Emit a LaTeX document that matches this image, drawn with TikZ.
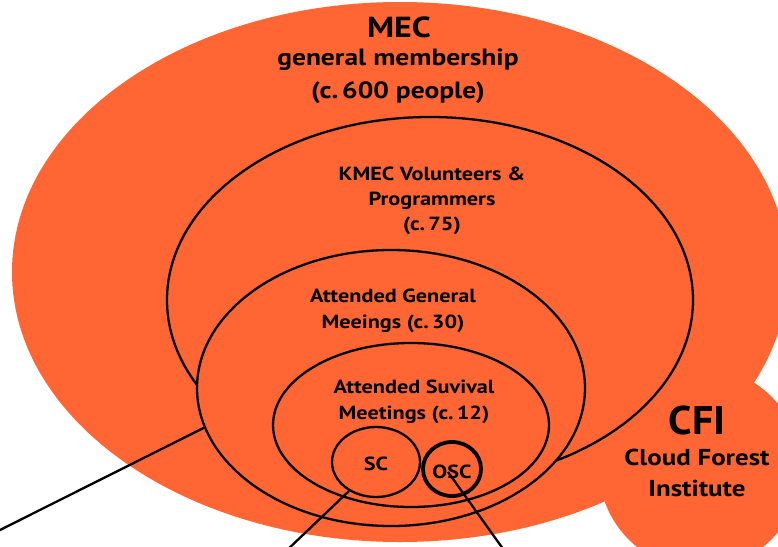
\documentclass[tikz,border=0pt]{standalone}
\usepackage{fontspec}
\setmainfont{PT Sans}[FakeStretch=1.17]
\newfontfamily\cfifont{PT Sans}[FakeStretch=1.05]
\usetikzlibrary{shapes.geometric}
\definecolor{mecorange}{RGB}{255,102,51}
\begin{document}
\begin{tikzpicture}[x=1pt,y=-1pt,
  blob/.style={fill=mecorange, draw=none, inner sep=0pt},
  ring/.style={ellipse, draw=black, line width=2.3pt, inner sep=0pt},
  lbl/.style={font=\bfseries, align=center, inner sep=0pt},
  conn/.style={draw=black, line width=2.3pt}]
\useasboundingbox (0,0) rectangle (778,546);
\clip (0,0) rectangle (778,546);
\fill[white] (0,0) rectangle (778,546);
% orange backgrounds
\node[ellipse, blob, minimum width=776pt, minimum height=540pt] (mec) at (400,272) {};
\node[circle, blob, minimum size=202pt] (cfi) at (700,468) {};
% nested groups
\node[ring, minimum width=526pt, minimum height=366pt] (kmec) at (430,300) {};
\node[ring, fill=mecorange, minimum width=388pt, minimum height=276pt] (gm) at (391,388) {};
\node[ring, minimum width=276pt, minimum height=164pt] (sv) at (411,425) {};
\node[ring, minimum width=88pt, minimum height=70pt] (sc) at (376,462) {};
\node[ring, line width=3.8pt, minimum width=58pt, minimum height=54pt] (osc) at (452,469) {};
% labels
\node[lbl, font=\bfseries\fontsize{29}{33}\selectfont] (mect) at (399,27) {MEC};
\node[lbl, font=\bfseries\fontsize{23.5}{33}\selectfont] (mecs) at (398,76) {general membership\\(c.\,600 people)};
\node[lbl, font=\bfseries\fontsize{19}{25}\selectfont] (kmect) at (432,201) {KMEC Volunteers \&\\Programmers\\(c.\,75)};
\node[lbl, font=\bfseries\fontsize{19}{26}\selectfont] (gmt) at (393,311) {Attended General\\Meeings (c.\,30)};
\node[lbl, font=\bfseries\fontsize{19}{26}\selectfont] (svt) at (414,402) {Attended Suvival\\Meetings (c.\,12)};
\node[lbl, font=\bfseries\fontsize{19}{25}\selectfont] (sct) at (376,464) {SC};
\node[lbl, font=\bfseries\fontsize{19}{25}\selectfont] (osct) at (452,472) {OSC};
\node[lbl, font=\cfifont\bfseries\fontsize{40}{44}\selectfont] (cfit) at (697,420) {CFI};
\node[lbl, font=\bfseries\fontsize{23}{31}\selectfont] (cfis) at (697,473) {Cloud Forest\\Institute};
% connectors
\coordinate (gmend) at (-6,533);
\coordinate (scend) at (284,553);
\coordinate (oscstart) at (448,472);
\coordinate (oscend) at (506,553);
\draw[conn] (gm.192) -- (gmend);
\draw[conn] (sc.227) -- (scend);
\draw[conn] (oscstart) -- (oscend);
\end{tikzpicture}
\end{document}
